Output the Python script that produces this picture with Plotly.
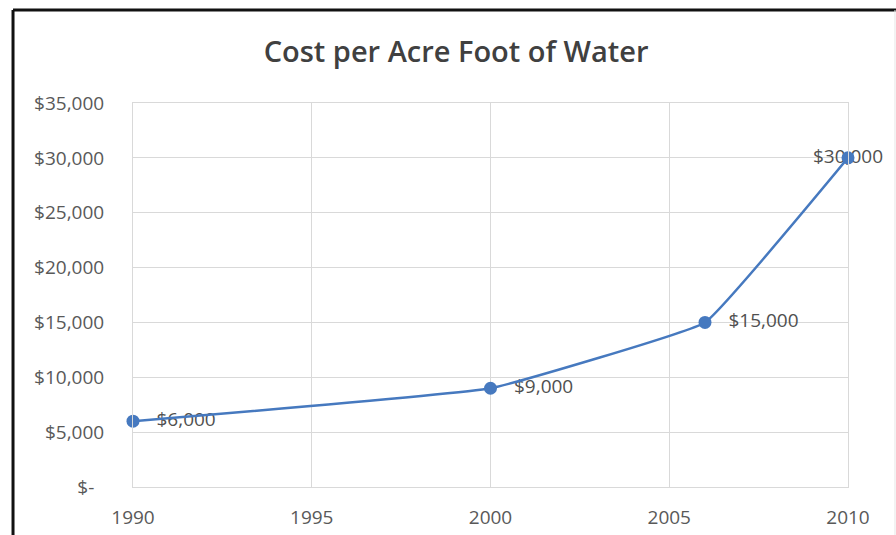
import plotly.graph_objects as go

# Cost per acre foot of water, by year
years = [1990, 2000, 2006, 2010]
costs = [6000, 9000, 15000, 30000]
cost_labels = ["$6,000", "$9,000", "$15,000", "$30,000"]
label_positions = ["middle right", "middle right", "middle right", "middle center"]

# Axis ticks
x_ticks = [1990, 1995, 2000, 2005, 2010]
y_ticks = [0, 5000, 10000, 15000, 20000, 25000, 30000, 35000]
y_tick_text = ["$-\u00a0\u00a0", "$5,000", "$10,000", "$15,000", "$20,000",
               "$25,000", "$30,000", "$35,000"]

line_color = "#4679bf"
grid_color = "#d9d9d9"
text_color = "#595959"
font_family = "Open Sans, Liberation Sans, sans-serif"

fig = go.Figure()

# Data labels first so the markers sit on top of them
fig.add_trace(go.Scatter(
    x=years, y=costs, mode="markers+text",
    text=cost_labels, textposition=label_positions,
    textfont=dict(family=font_family, size=19, color="#505050"),
    marker=dict(size=36, color="rgba(0,0,0,0)"),
    hoverinfo="skip", showlegend=False, cliponaxis=False,
))

fig.add_trace(go.Scatter(
    x=years, y=costs, mode="lines+markers",
    line=dict(color=line_color, width=2.5, shape="spline", smoothing=0.25),
    marker=dict(size=13, color=line_color),
    showlegend=False, cliponaxis=False,
))

fig.update_layout(
    width=896, height=535,
    margin=dict(l=133, r=48, t=103, b=48),
    paper_bgcolor="white", plot_bgcolor="white",
    title=dict(
        text="Cost per Acre Foot of Water",
        x=0.509, xanchor="center", y=0.903, yanchor="middle",
        font=dict(family=font_family, size=29, color="#404040", weight=600),
    ),
    xaxis=dict(
        range=[1990, 2010], tickvals=x_ticks, ticktext=[str(v) for v in x_ticks],
        showgrid=True, gridcolor=grid_color, gridwidth=1,
        zeroline=False, showline=True, mirror=True, linecolor=grid_color, linewidth=1,
        ticks="", automargin=False,
        tickfont=dict(family=font_family, size=19, color=text_color),
        ticklabelstandoff=13,
    ),
    yaxis=dict(
        range=[0, 35000], tickvals=y_ticks, ticktext=y_tick_text,
        showgrid=True, gridcolor=grid_color, gridwidth=1,
        zeroline=False, showline=True, mirror=True, linecolor=grid_color, linewidth=1,
        ticks="", automargin=False,
        tickfont=dict(family=font_family, size=19, color=text_color),
        ticklabelstandoff=24,
    ),
    shapes=[
        # outer frame: left and top edges
        dict(type="line", xref="paper", yref="paper",
             x0=-0.1678, x1=-0.1678, y0=1.2422, y1=-0.15,
             line=dict(color="#111111", width=3)),
        dict(type="line", xref="paper", yref="paper",
             x0=-0.1678, x1=1.08, y0=1.2422, y1=1.2422,
             line=dict(color="#111111", width=3)),
        dict(type="line", xref="paper", yref="paper",
             x0=1.0657, x1=1.0657, y0=1.2422, y1=-0.15,
             line=dict(color="#e6e6e6", width=1)),
    ],
)

fig.write_html("out.html")
